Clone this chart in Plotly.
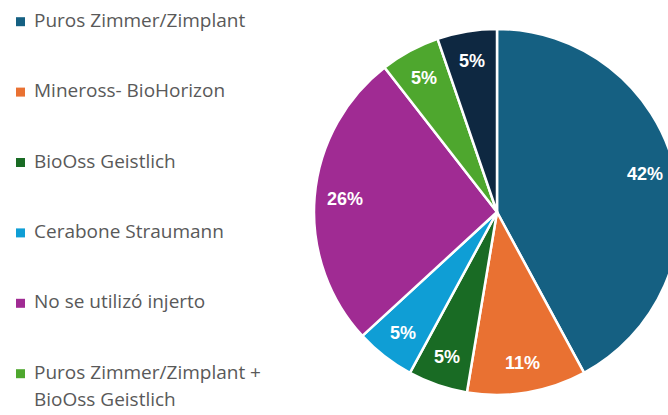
import math
import plotly.graph_objects as go

# ---- data ----
labels = [
    "Puros Zimmer/Zimplant",
    "Mineross- BioHorizon",
    "BioOss Geistlich",
    "Cerabone Straumann",
    "No se utilizó injerto",
    "Puros Zimmer/Zimplant +<br>BioOss Geistlich",
    "Otros",
]
counts = [8, 2, 1, 1, 5, 1, 1]
colors = ["#156082", "#E97132", "#196B24", "#0F9ED5", "#A02B93", "#4EA72E", "#0E2841"]

# ---- layout constants (pixels) ----
W, H = 700, 415
cx, cy, r = 497, 212, 183
label_frac = 0.835
leg_x_marker, leg_x_text = 20.5, 31.5
leg_y0, leg_dy = 19.7, 70.4
leg_line = 27.5
leg_font = 19

fig = go.Figure()
fig.add_trace(go.Pie(
    labels=[l.replace("<br>", " ") for l in labels],
    values=counts,
    sort=False,
    direction="clockwise",
    rotation=0,
    marker=dict(colors=colors, line=dict(color="white", width=2.5)),
    textinfo="none",
    domain=dict(x=[(cx - r) / W, (cx + r) / W], y=[1 - (cy + r) / H, 1 - (cy - r) / H]),
    showlegend=False,
    hoverinfo="label+percent",
))

shapes = []
annotations = []

# slice percentage labels, placed along each slice's bisector
total = sum(counts)
cum = 0
for c in counts:
    mid = (cum + c / 2) / total * 2 * math.pi
    cum += c
    d = label_frac * r
    px = cx + d * math.sin(mid)
    py = cy - d * math.cos(mid)
    annotations.append(dict(xref="paper", yref="paper", x=px / W, y=1 - py / H,
                            xanchor="center", yanchor="middle", showarrow=False,
                            text=f"{round(100 * c / total)}%",
                            font=dict(family="Liberation Sans", size=18, color="white", weight="bold")))

# legend
for i, (lab, col) in enumerate(zip(labels, colors)):
    yc = leg_y0 + i * leg_dy
    shapes.append(dict(type="rect", xref="paper", yref="paper",
                       x0=(leg_x_marker - 4.5) / W, x1=(leg_x_marker + 4.5) / W,
                       y0=1 - (yc + 6.5) / H, y1=1 - (yc - 2.5) / H,
                       fillcolor=col, line=dict(width=0)))
    for j, line in enumerate(lab.split("<br>")):
        annotations.append(dict(xref="paper", yref="paper", x=leg_x_text / W,
                                y=1 - (yc + j * leg_line) / H, xanchor="left", yanchor="middle",
                                text=line, showarrow=False, align="left",
                                font=dict(family="Open Sans", size=leg_font, color="#595959")))

fig.update_layout(
    width=W, height=H,
    margin=dict(l=0, r=0, t=0, b=0),
    paper_bgcolor="white", plot_bgcolor="white",
    shapes=shapes, annotations=annotations,
)

fig.write_html("out.html", config={"displayModeBar": False},
               post_script="document.body.style.margin='0';document.body.style.overflow='hidden';")
